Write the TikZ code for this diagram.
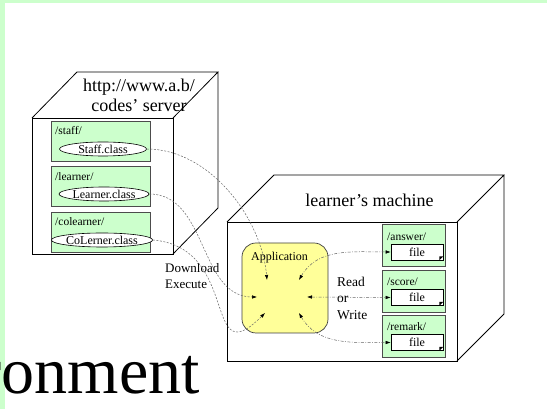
\documentclass[tikz,border=0pt]{standalone}
\usepackage{fontspec}
\setmainfont{Liberation Serif}
\usetikzlibrary{arrows.meta,positioning,shapes.geometric}

\definecolor{boxgreen}{RGB}{204,255,204}
\definecolor{appyellow}{RGB}{255,255,153}

\begin{document}
\begin{tikzpicture}[x=1pt,y=1pt,>={Latex[length=5pt,width=3.5pt,color=black]},
    every node/.style={font=\fontsize{12}{14}\selectfont,inner sep=0pt},
    dir/.style={draw=black!70,fill=boxgreen,line width=0.7pt},
    dirname/.style={font=\fontsize{11.5}{13}\selectfont,anchor=west},
    cls/.style={draw,ellipse,fill=white,minimum height=14,line width=0.6pt},
    datafile/.style={draw,fill=white,minimum width=52,minimum height=16,line width=0.6pt},
    title/.style={font=\fontsize{18}{20}\selectfont,align=center},
    fetch/.style={->,draw=black!60,dash pattern=on 2pt off 1.5pt,line width=0.5pt},
    rw/.style={<->,draw=black!60,dash pattern=on 3pt off 1.5pt on 0.8pt off 1.5pt,line width=0.5pt}]

  \useasboundingbox (0,0) rectangle (547,409);
  \clip (0,0) rectangle (547,409);
  \fill[white] (0,0) rectangle (547,409);
  \fill[boxgreen] (0,406) rectangle (547,409);
  \fill[boxgreen] (0,0) rectangle (5,409);

  \node[anchor=base east,font=\fontsize{66}{70}\selectfont] (heading) at (200,15) {ronment};

  % server cube
  \draw[line width=0.8pt] (32,155) rectangle (173,291);
  \draw[line width=0.8pt] (32,291) -- (77,337) -- (218,337) -- (173,291)
    (218,337) -- (218,201) -- (173,155);
  \node[title] (srvtitle) at (139,314) {http://www.a.b/\\codes' server};

  \node[dir,minimum width=99,minimum height=40] (staff) at (100.5,268) {};
  \node[dir,minimum width=99,minimum height=40] (learner) at (100.5,222.5) {};
  \node[dir,minimum width=99,minimum height=40] (colearner) at (100.5,177) {};
  \node[dirname] at (55,278) {/staff/};
  \node[dirname] at (55,232) {/learner/};
  \node[dirname] at (55,187) {/colearner/};
  \node[cls,minimum width=87] (staffcls) at (103,260) {Staff.class};
  \node[cls,minimum width=90] (learnercls) at (104,215) {Learner.class};
  \node[cls,minimum width=98] (colearnercls) at (102,169) {CoLerner.class};

  % learner's machine
  \draw[line width=0.8pt] (227,48) rectangle (457,187);
  \draw[line width=0.8pt] (227,187) -- (274,234) -- (504,234) -- (457,187)
    (504,234) -- (504,95) -- (457,48);
  \node[title] (mactitle) at (369.5,209) {learner's machine};

  \node[draw=black!75,fill=appyellow,rounded corners=14,line width=0.7pt,
        minimum width=86,minimum height=90] (app) at (285,121) {};
  \node (applabel) at (279.5,151) {Application};
  \coordinate (a1) at (267,129);
  \coordinate (a2) at (257,112);
  \coordinate (a3) at (265,96);
  \coordinate (b1) at (299,129);
  \coordinate (b2) at (307,112);
  \coordinate (b3) at (299,96);

  \node[dir,minimum width=63,minimum height=42] (answer) at (413.5,164) {};
  \node[dir,minimum width=63,minimum height=42] (score) at (413.5,118) {};
  \node[dir,minimum width=63,minimum height=42] (remark) at (413.5,73) {};
  \node[dirname] at (387,172) {/answer/};
  \node[dirname] at (387,127) {/score/};
  \node[dirname] at (387,82) {/remark/};
  \node[datafile] (ansfile) at (417,157) {file};
  \node[datafile] (scorefile) at (417,111.5) {file};
  \node[datafile] (remfile) at (417,66.5) {file};
  \foreach \f in {ansfile,scorefile,remfile}
    \fill ([xshift=-4]\f.south east) -- ([yshift=4]\f.south east)
      -- ([shift={(-4,4)}]\f.south east) -- cycle;

  \node[align=left,anchor=west,font=\fontsize{13}{16}\selectfont] (dl) at (165,133) {Download\\Execute};
  \node[align=left,anchor=west,font=\fontsize{13.5}{16.5}\selectfont] (rdwr) at (337,111) {Read\\or\\Write};

  % class files pulled into the application
  \draw[fetch] (staffcls.east) to[out=0,in=95,looseness=0.9] (a1);
  \draw[fetch] (learnercls.east) to[out=0,in=180] (a2);
  \draw[fetch] (colearnercls.east) to[out=-5,in=225,looseness=1.7] (a3);

  % data files
  \draw[rw] (b1) to[out=60,in=180] (ansfile.west);
  \draw[rw] (b2) -- (scorefile.west);
  \draw[rw] (b3) to[out=-60,in=180] (remfile.west);
\end{tikzpicture}
\end{document}
